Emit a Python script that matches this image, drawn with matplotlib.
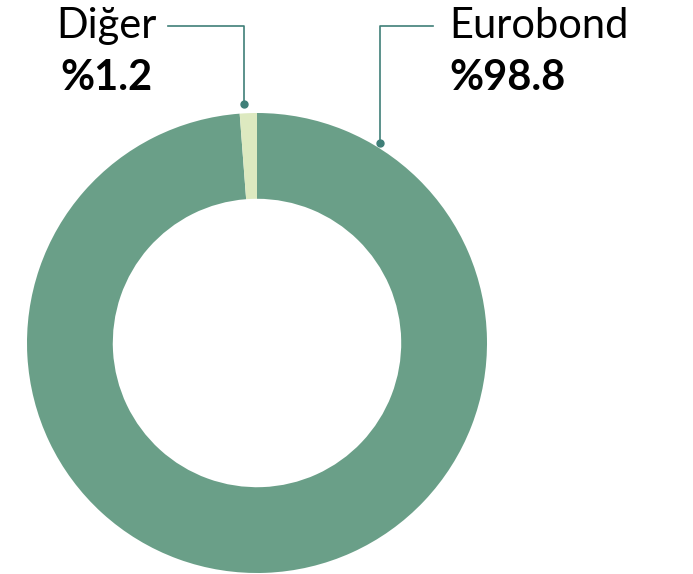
import numpy as np
import matplotlib.pyplot as plt

labels = ['Eurobond', 'Diğer']
shares = [98.8, 1.2]
colors = ['#6a9f88', '#dde9c0']
line_color = '#3f7f78'

plt.rcParams['font.family'] = ['Lato', 'DejaVu Sans']

fig = plt.figure(figsize=(6.93, 5.74), dpi=100)
ax = fig.add_axes([0, 0, 1, 1])

cx, cy, R = 257, 231, 230
wedges, _ = ax.pie(shares, colors=colors, startangle=90, counterclock=False,
                   center=(cx, cy), radius=R, frame=True,
                   wedgeprops=dict(width=R * 0.373, edgecolor='none'))
ax.set_xlim(0, 693)
ax.set_ylim(0, 574)
ax.set_aspect('equal')
ax.axis('off')

# label anchors: angle on ring (deg), radius of dot, elbow x, text x
anchors = {
    'Diğer': dict(ang=93.1, r=239, elbow_x=168, text_x=157, ha='right', val_x=60),
    'Eurobond': dict(ang=58.4, r=235, elbow_x=433, text_x=449, ha='left', val_x=449),
}
top_y = 548
for name, val in zip(labels, shares):
    a = anchors[name]
    px = cx + a['r'] * np.cos(np.radians(a['ang']))
    py = cy + a['r'] * np.sin(np.radians(a['ang']))
    ax.plot([px, px, a['elbow_x']], [py, top_y, top_y], color=line_color, lw=1.2)
    ax.plot(px, py, 'o', color=line_color, ms=5)
    ax.text(a['text_x'], top_y, name, ha=a['ha'], va='center', fontsize=30)
    ax.text(a['val_x'], top_y - 52, f'%{val:.1f}', ha='left', va='center',
            fontsize=30, fontweight='bold')

fig.savefig('out.png', dpi=100)
